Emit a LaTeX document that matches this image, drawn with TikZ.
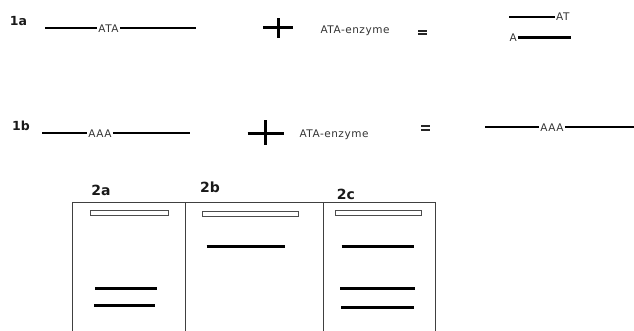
\documentclass[tikz,border=0pt]{standalone}
\usepackage{fontspec}
\setmainfont{DejaVu Sans}
\newfontfamily\seqfont[LetterSpace=5]{DejaVu Sans}
\usetikzlibrary{calc}
\begin{document}
\begin{tikzpicture}[x=1pt,y=-1pt,
  strand/.style={line width=2.8pt,black},
  band/.style={line width=3pt,black},
  gelbox/.style={line width=0.8pt,draw=black!75},
  well/.style={draw=black!70,line width=0.8pt,fill=white},
  seq/.style={font=\seqfont\fontsize{10.5}{11}\selectfont,text=black!80,inner xsep=1pt,inner ysep=0pt},
  lbl/.style={font=\fontsize{12.5}{13}\selectfont\bfseries,text=black!90,inner sep=0pt},
  glbl/.style={font=\fontsize{14}{15}\selectfont\bfseries,text=black!90,inner sep=0pt},
  sym/.style={line width=3pt,black},
  eqbar/.style={line width=2pt,black!85}]
\useasboundingbox (0,0) rectangle (634,331);
% row 1a
\node[lbl] (l1a) at (18.5,21) {1a};
\coordinate (a1s) at (45,28);
\node[seq] (a1t) at (108.5,28.5) {ATA};
\coordinate (a1e) at (196,28);
\draw[strand] (a1s) -- (a1s -| a1t.west);
\draw[strand] (a1e -| a1t.east) -- (a1e);
\coordinate (p1c) at (278,27.5);
\draw[sym] ($(p1c)+(-15,0)$) -- ($(p1c)+(15,0)$);
\draw[sym] ($(p1c)+(0,-9)$) -- ($(p1c)+(0,11)$);
\node[seq] (e1) at (355,31) {ATA-enzyme};
\coordinate (eq1) at (422.5,32.5);
\draw[eqbar] ($(eq1)+(-4.5,-1.6)$) -- ($(eq1)+(4.5,-1.6)$);
\draw[eqbar] ($(eq1)+(-4.5,1.6)$) -- ($(eq1)+(4.5,1.6)$);
\coordinate (r1s) at (509,17);
\node[seq,anchor=west] (r1t) at (555,17) {AT};
\draw[strand] (r1s) -- (r1s -| r1t.west);
\node[seq,anchor=east] (r2t) at (518,38) {A};
\coordinate (r2e) at (571,37.5);
\draw[strand] (r2e -| r2t.east) -- (r2e);
% row 1b
\node[lbl] (l1b) at (21,126) {1b};
\coordinate (b1s) at (42,133);
\node[seq] (b1t) at (100,133.5) {AAA};
\coordinate (b1e) at (190,133);
\draw[strand] (b1s) -- (b1s -| b1t.west);
\draw[strand] (b1e -| b1t.east) -- (b1e);
\coordinate (p2c) at (265.5,133.5);
\draw[sym] ($(p2c)+(-18,0)$) -- ($(p2c)+(18,0)$);
\draw[sym] ($(p2c)+(0,-13)$) -- ($(p2c)+(0,12)$);
\node[seq] (e2) at (334,134.5) {ATA-enzyme};
\coordinate (eq2) at (425.5,128);
\draw[eqbar] ($(eq2)+(-4.5,-1.6)$) -- ($(eq2)+(4.5,-1.6)$);
\draw[eqbar] ($(eq2)+(-4.5,1.6)$) -- ($(eq2)+(4.5,1.6)$);
\coordinate (s1s) at (485,127);
\node[seq] (s1t) at (552,127.5) {AAA};
\coordinate (s1e) at (634,127);
\draw[strand] (s1s) -- (s1s -| s1t.west);
\draw[strand] (s1e -| s1t.east) -- (s1e);
% gel
\node[glbl] (g2a) at (101,190) {2a};
\node[glbl] (g2b) at (210,187.5) {2b};
\node[glbl] (g2c) at (346,194) {2c};
\draw[gelbox] (72.7,331) -- (72.7,202.5) -- (435,202.5) -- (435,331);
\draw[gelbox] (185.3,202.5) -- (185.3,331);
\draw[gelbox] (323.3,202.5) -- (323.3,331);
\draw[well] (90,210.7) rectangle (168,215);
\draw[well] (202,211.7) rectangle (298,216.7);
\draw[well] (335,210.7) rectangle (421.7,215);
\draw[band] (95,288.3) -- (157,288.3);
\draw[band] (94,305.7) -- (155,305.7);
\draw[band] (206.7,246.3) -- (285.3,246.3);
\draw[band] (341.7,246.3) -- (414,246.3);
\draw[band] (340,288) -- (415,288);
\draw[band] (341,307) -- (414,307);
\end{tikzpicture}
\end{document}
